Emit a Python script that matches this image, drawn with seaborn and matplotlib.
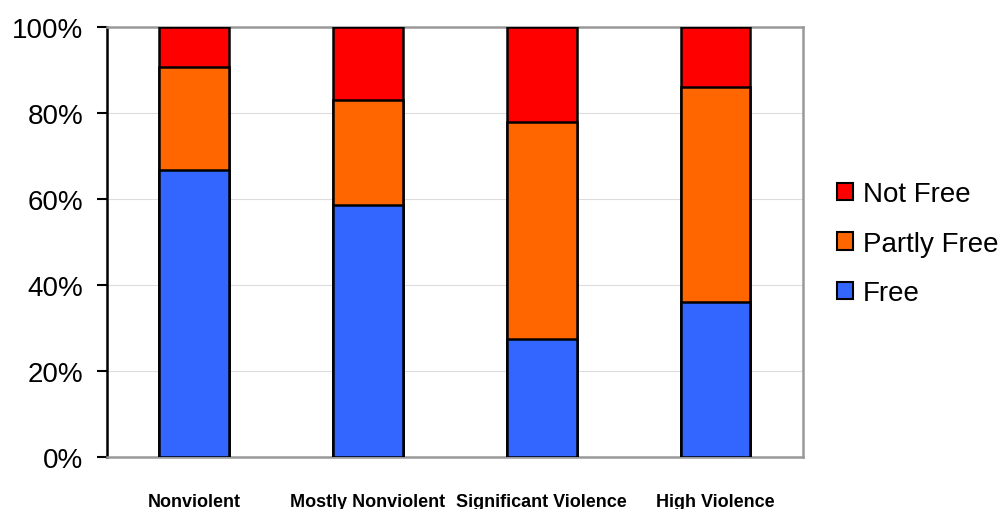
import matplotlib
matplotlib.use('Agg')
import matplotlib.pyplot as plt
import seaborn as sns
import pandas as pd
from matplotlib.patches import Patch

# categories and shares (percent of countries)
categories = ['Nonviolent', 'Mostly Nonviolent', 'Significant Violence', 'High Violence']
free = [66.7, 58.5, 27.4, 36.0]
partly_free = [24.0, 24.5, 50.5, 50.0]
not_free = [9.3, 17.0, 22.1, 14.0]

colors = {'Not Free': '#FF0000', 'Partly Free': '#FF6600', 'Free': '#3366FF'}

df = pd.DataFrame({'cat': categories, 'Free': free,
                   'Partly Free': partly_free, 'Not Free': not_free})
df['top_partly'] = df['Free'] + df['Partly Free']
df['top_not'] = df['top_partly'] + df['Not Free']

sns.set_style('white')
plt.rcParams['font.family'] = ['Liberation Sans', 'DejaVu Sans']
plt.rcParams['text.color'] = 'black'
plt.rcParams['xtick.color'] = 'black'
plt.rcParams['ytick.color'] = 'black'

fig = plt.figure(figsize=(10.07, 5.10), dpi=100)
ax = fig.add_axes([0.1063, 0.102, 0.6907, 0.843])

# stacked bars: draw cumulative tops from the back
for col, name in [('top_not', 'Not Free'), ('top_partly', 'Partly Free'), ('Free', 'Free')]:
    sns.barplot(data=df, x='cat', y=col, color=colors[name], width=0.4,
                edgecolor='black', linewidth=1.8, saturation=1, ax=ax, zorder=3)

ax.set_ylim(0, 100)
ax.set_xlim(-0.5, 3.5)
ax.set_yticks([0, 20, 40, 60, 80, 100])
ax.set_yticklabels(['0%', '20%', '40%', '60%', '80%', '100%'], fontsize=20)
ax.set_xlabel('')
ax.set_ylabel('')
ax.yaxis.grid(True, color='#dddddd', linewidth=0.8, zorder=0)
ax.set_axisbelow(True)

for s in ['top', 'right', 'bottom']:
    ax.spines[s].set_color('#999999')
    ax.spines[s].set_linewidth(1.8)
    ax.spines[s].set_visible(True)
ax.spines['left'].set_color('black')
ax.spines['left'].set_linewidth(1.8)
ax.spines['left'].set_visible(True)

ax.tick_params(axis='y', left=True, length=7, width=1.5, color='black',
               labelcolor='black', pad=10)
ax.tick_params(axis='x', length=0, pad=26, labelcolor='black')
for lbl in ax.get_xticklabels():
    lbl.set_fontsize(13)
    lbl.set_fontweight('bold')

handles = [Patch(facecolor=colors[n], edgecolor='black', linewidth=1.5, label=n)
           for n in ['Not Free', 'Partly Free', 'Free']]
fig.legend(handles=handles, loc='center left', bbox_to_anchor=(0.817, 0.52),
           frameon=False, fontsize=20, handlelength=0.6, handleheight=0.6,
           handletextpad=0.35, labelspacing=0.85, borderpad=0)

fig.savefig('out.png', dpi=100)
